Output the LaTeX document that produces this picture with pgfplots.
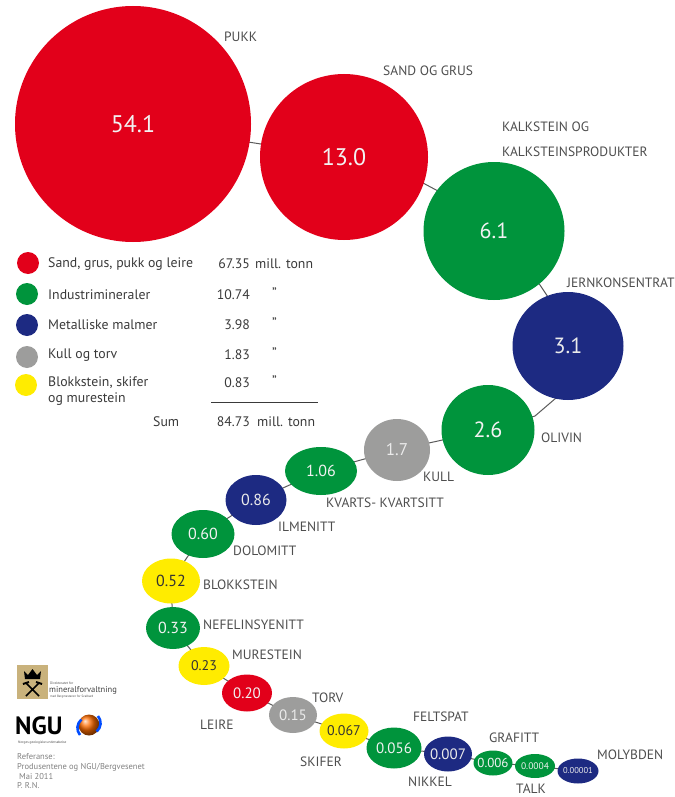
\documentclass[border=0pt]{standalone}
\usepackage{pgfplots}
\pgfplotsset{compat=1.18}
\usepackage{pgfplotstable}
\usepackage{fontspec}
\setmainfont{PT Sans}
\definecolor{nred}{HTML}{E2001A}
\definecolor{ngreen}{HTML}{00943C}
\definecolor{nblue}{HTML}{1D2A82}
\definecolor{ngray}{HTML}{9D9D9C}
\definecolor{nyellow}{HTML}{FFEC00}
\definecolor{labc}{HTML}{4E4E4E}
\definecolor{txtc}{HTML}{3A3A3A}
\definecolor{goldc}{HTML}{C9B27C}
\definecolor{linec}{HTML}{5A5A5A}

\pgfdeclareplotmark{bub}{\pgfpathellipse{\pgfpointorigin}{\pgfpoint{\bubrx pt}{0pt}}{\pgfpoint{0pt}{\bubry pt}}\pgfusepath{fill}}

\pgfplotstableread{
x y rx ry fs lab
133 124 118 118 24 54.1
344 157 84 83 24 13.0
247 693 25 18.5 15 0.20
}\redtab
\pgfplotstableread{
x y rx ry fs lab
494 231 70.5 69 22 6.1
488 430 46.5 45 22 2.6
321 471 36 24 16 1.06
203 534 31.5 24 16 0.60
173 628 27 21 16 0.33
394 748 27.5 20.5 15 0.056
493 763 19.5 12.5 13 0.006
535 766 20 12 9.5 0.0004
}\greentab
\pgfplotstableread{
x y rx ry fs lab
568 346 55.5 54 22 3.1
256 500 30.5 25 16 0.86
448 754 24 17.5 15 0.007
578 771 20.5 12.5 8.5 0.00001
}\bluetab
\pgfplotstableread{
x y rx ry fs lab
397 450 33 31 17 1.7
293 715 24 18 15 0.15
}\graytab
\pgfplotstableread{
x y rx ry fs lab
171 581 29 22.5 16 0.52
204 666 25.5 19 14 0.23
344 731 24.5 17.5 14 0.067
}\yellowtab
% legend swatches
\pgfplotstableread{
x y rx ry
28 263 11 11
}\legred
\pgfplotstableread{
x y rx ry
27 294 11 11
}\leggreen
\pgfplotstableread{
x y rx ry
27 325 11 11
}\legblue
\pgfplotstableread{
x y rx ry
27 357 11 11
}\leggray
\pgfplotstableread{
x y rx ry
26 385 11 11
}\legyellow

\pgfplotsset{
  bubble/.style={
    scatter, only marks, mark=bub,
    visualization depends on={\thisrow{rx} \as \bubrx},
    visualization depends on={\thisrow{ry} \as \bubry},
    scatter/@pre marker code/.code={\pgfscope\pgfsetfillcolor{#1}},
    scatter/@post marker code/.code={\endpgfscope},
  },
  bublabel/.style={
    only marks, mark=none,
    point meta=explicit symbolic,
    visualization depends on={\thisrow{fs} \as \bubfs},
    nodes near coords,
    every node near coord/.append style={anchor=center, text=#1, inner sep=0pt, font=\fontsize{\bubfs}{\bubfs}\selectfont},
  },
}
\tikzset{
  lbl/.style={anchor=west, inner sep=0pt, text=labc, font=\fontsize{13.5}{13.5}\selectfont},
  leg/.style={anchor=west, inner sep=0pt, text=txtc, font=\fontsize{13.8}{13.8}\selectfont},
  legr/.style={anchor=east, inner sep=0pt, text=txtc, font=\fontsize{13.8}{13.8}\selectfont},
  refs/.style={anchor=west, inner sep=0pt, text=gray, font=\fontsize{8.5}{8.5}\selectfont},
}

\begin{document}
\begin{tikzpicture}
\begin{axis}[name=ax, at={(0,0)}, anchor=south west, scale only axis,
  width=674pt, height=797pt, xmin=0, xmax=674, ymin=0, ymax=797,
  y dir=reverse, hide axis, clip=false]
% connector
\addplot[linec, line width=1pt, no marks] coordinates {
(133,124) (344,157) (423,183) (438,191) (494,231) (540,285) (548,297) (568,346)
(556,398) (535,416) (488,430) (397,450) (321,471) (256,500) (203,534)
(171,581) (173,628) (204,666) (247,693) (293,715) (344,731) (394,748)
(448,754) (493,763) (535,766) (578,771)};
% bubbles
\addplot[bubble=nred] table {\redtab};
\addplot[bubble=ngreen] table {\greentab};
\addplot[bubble=nblue] table {\bluetab};
\addplot[bubble=ngray] table {\graytab};
\addplot[bubble=nyellow] table {\yellowtab};
\addplot[bubble=nred] table {\legred};
\addplot[bubble=ngreen] table {\leggreen};
\addplot[bubble=nblue] table {\legblue};
\addplot[bubble=ngray] table {\leggray};
\addplot[bubble=nyellow] table {\legyellow};
% values
\addplot[bublabel={white!95!black}] table[meta=lab] {\redtab};
\addplot[bublabel={white!95!black}] table[meta=lab] {\greentab};
\addplot[bublabel={white!92!black}] table[meta=lab] {\bluetab};
\addplot[bublabel={white!92!black}] table[meta=lab] {\graytab};
\addplot[bublabel={black!80}] table[meta=lab] {\yellowtab};
% category labels
\node[lbl] at (axis cs:224,37) {PUKK};
\node[lbl] at (axis cs:383,71) {SAND OG GRUS};
\node[lbl] at (axis cs:502,127) {KALKSTEIN OG};
\node[lbl] at (axis cs:502,152) {KALKSTEINSPRODUKTER};
\node[lbl] at (axis cs:567,283) {JERNKONSENTRAT};
\node[lbl] at (axis cs:541,438) {OLIVIN};
\node[lbl] at (axis cs:423,477) {KULL};
\node[lbl] at (axis cs:326,503) {KVARTS- KVARTSITT};
\node[lbl] at (axis cs:278,527) {ILMENITT};
\node[lbl] at (axis cs:233,551) {DOLOMITT};
\node[lbl] at (axis cs:203,585) {BLOKKSTEIN};
\node[lbl] at (axis cs:203,625) {NEFELINSYENITT};
\node[lbl] at (axis cs:232,655) {MURESTEIN};
\node[lbl] at (axis cs:200,725) {LEIRE};
\node[lbl] at (axis cs:312,698) {TORV};
\node[lbl] at (axis cs:300,762) {SKIFER};
\node[lbl] at (axis cs:413,717) {FELTSPAT};
\node[lbl] at (axis cs:408,782) {NIKKEL};
\node[lbl] at (axis cs:489,738) {GRAFITT};
\node[lbl] at (axis cs:516,789) {TALK};
\node[lbl] at (axis cs:597,755) {MOLYBDEN};
% legend texts
\node[leg] at (axis cs:48,264) {Sand, grus, pukk og leire};
\node[legr] at (axis cs:250,264) {67.35};
\node[leg] at (axis cs:255,264) {mill. tonn};
\node[leg] at (axis cs:48,295) {Industrimineraler};
\node[legr] at (axis cs:250,295) {10.74};
\node[leg] at (axis cs:272,293) {\symbol{34}};
\node[leg] at (axis cs:48,325) {Metalliske malmer};
\node[legr] at (axis cs:250,325) {3.98};
\node[leg] at (axis cs:272,323) {\symbol{34}};
\node[leg] at (axis cs:48,355) {Kull og torv};
\node[legr] at (axis cs:250,355) {1.83};
\node[leg] at (axis cs:272,353) {\symbol{34}};
\node[leg] at (axis cs:48,383) {Blokkstein, skifer};
\node[leg] at (axis cs:48,399) {og murestein};
\node[legr] at (axis cs:250,383) {0.83};
\node[leg] at (axis cs:272,381) {\symbol{34}};
\draw[txtc, line width=0.8pt] (axis cs:211,402) -- (axis cs:318,402);
\node[leg] at (axis cs:153,422) {Sum};
\node[legr] at (axis cs:250,422) {84.73};
\node[leg] at (axis cs:257,422) {mill. tonn};
% logos
\fill[goldc] (axis cs:17,665) rectangle (axis cs:48,699);
\fill[black] (axis cs:25,679) -- (axis cs:24,671) -- (axis cs:28,675) -- (axis cs:32.5,669) -- (axis cs:37,675) -- (axis cs:41,671) -- (axis cs:40,679) -- cycle;
\draw[black, line width=1.6pt] (axis cs:26,696) -- (axis cs:39,683) (axis cs:39,696) -- (axis cs:26,683);
\draw[black, line width=2pt] (axis cs:23,684) -- (axis cs:29,682) (axis cs:36,682) -- (axis cs:42,684);
\node[anchor=west, inner sep=0pt, text=black!70, font=\fontsize{3.5}{3.5}\selectfont] at (axis cs:50,683) {Direktoratet for};
\node[anchor=west, inner sep=0pt, text=black!75, font=\fontsize{8.5}{8.5}\selectfont] at (axis cs:49,690.5) {mineralforvaltning};
\node[anchor=west, inner sep=0pt, text=black!70, font=\fontsize{3.2}{3.2}\selectfont] at (axis cs:50,697) {med Bergmesteren for Svalbard};
\node[anchor=base west, inner sep=0pt, text depth=0pt, text=black, font=\fontsize{25}{25}\bfseries\selectfont] at (axis cs:15,734) {NGU};
\shade[ball color=orange!85!red] (axis cs:89,725) circle[radius=10.5pt];
\draw[blue!70!cyan, line width=2.6pt] (axis cs:80,735) arc[start angle=220, end angle=130, radius=11pt];
\draw[blue!70!cyan, line width=2.6pt] (axis cs:98,716) arc[start angle=40, end angle=-50, radius=11pt];
\node[anchor=west, inner sep=0pt, text=black!70, font=\fontsize{3.5}{3.5}\selectfont] at (axis cs:18,742.5) {Norges geologiske undersøkelse};
\node[refs] at (axis cs:17,757) {Referanse:};
\node[refs] at (axis cs:17,767) {Produsentene og NGU/Bergvesenet};
\node[refs] at (axis cs:19,777) {Mai 2011};
\node[refs] at (axis cs:17,786) {P. R.N.};
\end{axis}
\pgfresetboundingbox
\useasboundingbox (ax.south west) rectangle (ax.north east);
\end{tikzpicture}
\end{document}
